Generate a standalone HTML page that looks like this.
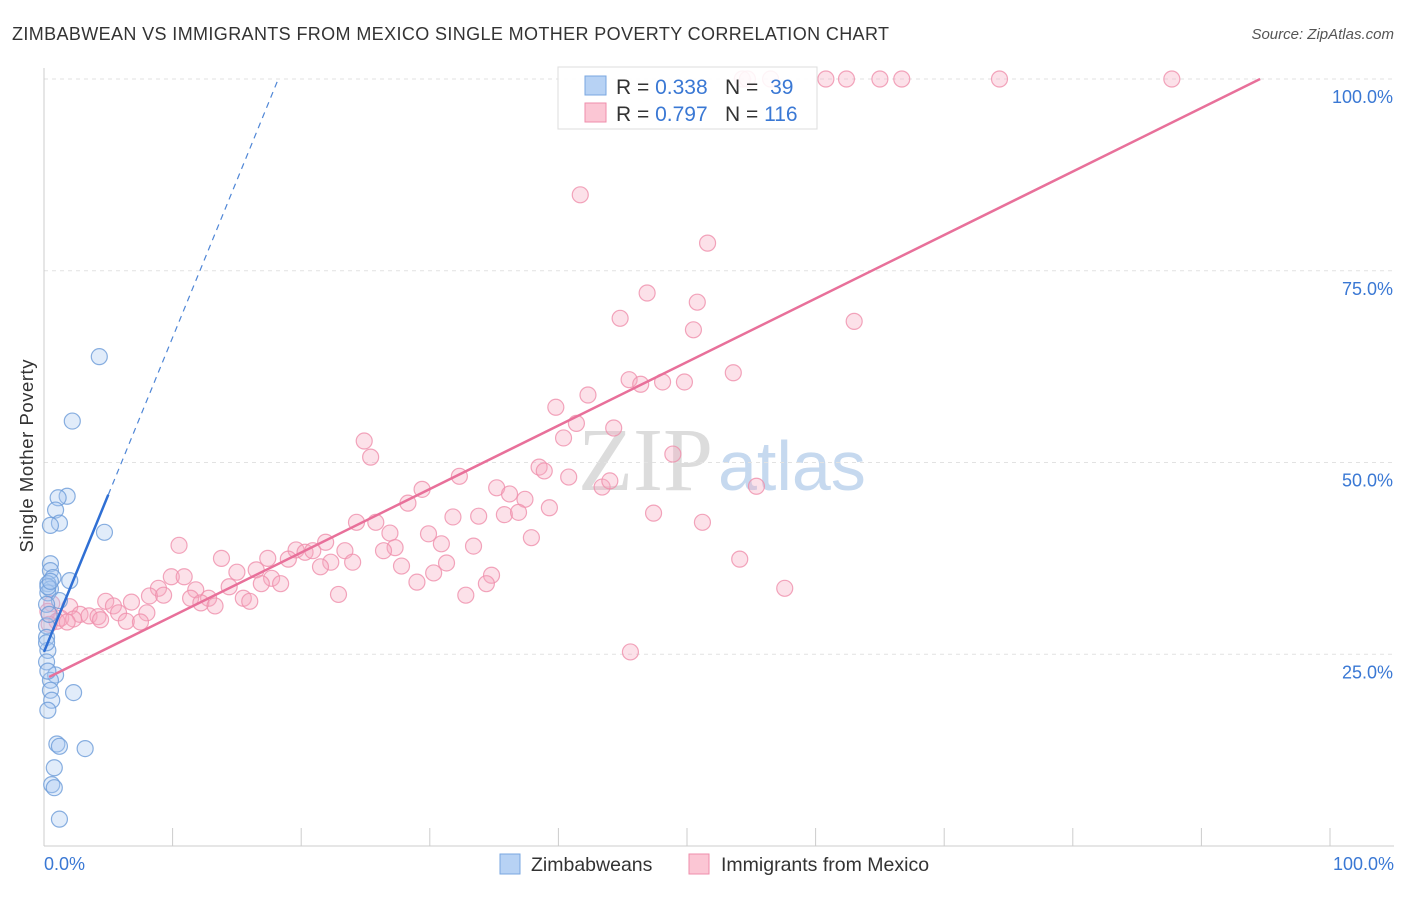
<!DOCTYPE html>
<html><head><meta charset="utf-8"><style>
body{margin:0;background:#fff;font-family:"Liberation Sans",sans-serif;}
</style></head><body>
<svg id="chart" width="1406" height="892" xmlns="http://www.w3.org/2000/svg">
<text x="12" y="40" font-size="18" fill="#333" textLength="877">ZIMBABWEAN VS IMMIGRANTS FROM MEXICO SINGLE MOTHER POVERTY CORRELATION CHART</text>
<text x="1394" y="39" font-size="15" fill="#555" text-anchor="end" font-style="italic">Source: ZipAtlas.com</text>
<text x="33" y="456" font-size="18.5" fill="#333" text-anchor="middle" transform="rotate(-90 33 456)" textLength="193">Single Mother Poverty</text>
<text x="713" y="490" font-size="90" fill="#dcdcdc" font-family="Liberation Serif,serif" text-anchor="end">ZIP</text>
<text x="718" y="490" font-size="70" fill="#c6d9ef">atlas</text>
<g id="grid"></g>
<g id="marks"></g>
<g>
<rect x="558" y="67" width="259" height="62" fill="#fff" fill-opacity="0.88" stroke="#ddd"/>
<rect x="585" y="76" width="21" height="19" fill="#b7d2f4" stroke="#7aa7e0"/>
<rect x="585" y="103" width="21" height="19" fill="#fbc6d4" stroke="#ef8eab"/>
<text x="616" y="94" font-size="21" fill="#333">R = <tspan fill="#3a78d4">0.338</tspan></text>
<text x="725" y="94" font-size="21" fill="#333">N = <tspan fill="#3a78d4" dx="6">39</tspan></text>
<text x="616" y="121" font-size="21" fill="#333">R = <tspan fill="#3a78d4">0.797</tspan></text>
<text x="725" y="121" font-size="21" fill="#333">N = <tspan fill="#3a78d4">116</tspan></text>
</g>
<g>
<rect x="500" y="854" width="20" height="20" fill="#b7d2f4" stroke="#7aa7e0"/>
<text x="531" y="871" font-size="19.5" fill="#333">Zimbabweans</text>
<rect x="689" y="854" width="20" height="20" fill="#fbc6d4" stroke="#ef8eab"/>
<text x="721" y="871" font-size="19.5" fill="#333">Immigrants from Mexico</text>
</g>
<text x="44" y="870" font-size="18" fill="#3a78d4">0.0%</text>
<text x="1394" y="870" font-size="18" fill="#3a78d4" text-anchor="end">100.0%</text>
</svg>
<script>
const yTicks=[25,50,75,100];
const yTickLabels=["25.0%","50.0%","75.0%","100.0%"];
const blueX=[4.3,2.2,1.8,1.1,0.9,1.2,0.5,4.7,0.5,0.5,0.7,2,0.3,0.5,0.3,1.2,0.2,0.2,0.2,0.3,0.2,0.9,0.5,0.5,2.3,0.6,0.3,1,1.2,3.2,0.8,0.6,0.8,1.2,0.3,0.4,0.2,0.3,0.5];
const blueY=[63.8,55.4,45.6,45.4,43.8,42.1,41.8,40.9,36.8,35.9,35,34.6,34.2,33.5,33,32,31.5,28.7,27.2,25.5,24,22.3,21.6,20.3,20,19,17.7,13.3,13,12.7,10.2,8,7.6,3.5,33.8,30.2,26.5,22.8,34.5];
const pinkX=[54.3,54.7,56.5,60.8,62.4,65.0,66.7,74.3,87.7,41.7,51.6,46.9,50.8,44.8,63.0,50.5,53.6,45.5,46.4,48.1,49.8,42.3,39.8,41.4,44.3,40.4,24.9,25.4,48.9,38.5,38.9,32.3,40.8,55.4,43.4,44,35.2,29.4,36.2,37.4,28.3,35.8,36.9,39.3,31.8,33.8,47.4,51.2,24.3,25.8,26.9,29.9,37.9,21.9,30.9,10.5,33.4,19.6,20.3,27.3,26.4,23.4,20.9,13.8,17.4,19,54.1,22.3,24,31.3,21.5,27.8,15,16.5,30.3,34.8,9.9,10.9,17.7,29,16.9,18.4,34.4,8.9,57.6,14.4,11.8,22.9,32.8,8.2,9.3,11.4,12.8,15.5,4.8,6.8,12.2,16,13.3,0.6,2,5.4,0.3,5.8,8,2.8,3.5,4.2,1.3,2.3,4.4,6.4,1,1.8,7.5,0.4,45.6];
const pinkY=[100,100,100,100,100,100,100,100,100,84.9,78.6,72.1,70.9,68.8,68.4,67.3,61.7,60.8,60.2,60.5,60.5,58.8,57.2,55.1,54.5,53.2,52.8,50.7,51.1,49.4,48.9,48.2,48.1,46.9,46.8,47.6,46.7,46.5,45.9,45.2,44.7,43.2,43.5,44.1,42.9,43,43.4,42.2,42.2,42.2,40.8,40.7,40.2,39.6,39.4,39.2,39.1,38.6,38.3,38.9,38.5,38.5,38.5,37.5,37.5,37.4,37.4,37,37,36.9,36.4,36.5,35.7,36,35.6,35.3,35.1,35.1,34.9,34.4,34.2,34.2,34.2,33.6,33.6,33.8,33.4,32.8,32.7,32.6,32.7,32.3,32.3,32.3,31.9,31.8,31.7,31.9,31.3,31.6,31.2,31.3,30.6,30.4,30.4,30.2,30,29.9,29.7,29.6,29.5,29.3,29.3,29.2,29.2,28.9,25.3];
const blueFit=[25.3,4.1];
const pinkFit=[21.7,0.828];
const NS="http://www.w3.org/2000/svg";
const X=v=>44+v*12.86, Y=v=>846-v*7.67;
const grid=document.getElementById('grid'), marks=document.getElementById('marks');
function mk(tag,at,par){const e=document.createElementNS(NS,tag);for(const k in at)e.setAttribute(k,at[k]);par.appendChild(e);return e;}
yTicks.forEach((t,i)=>{
 const l=mk('line',{x1:44,x2:1394,y1:Y(t),y2:Y(t),stroke:'#e2e2e2','stroke-dasharray':'4 4'},grid);
 
 
 const tx=mk('text',{x:1393,y:Y(t)+24,'font-size':18,fill:'#3a78d4','text-anchor':'end'},grid);
 tx.textContent=yTickLabels[i];
 
 
});
mk('line',{x1:44,x2:44,y1:68,y2:846,stroke:'#ccc'},grid);
mk('line',{x1:44,x2:1394,y1:846,y2:846,stroke:'#ccc'},grid);
for(let i=1;i<=10;i++){const t=mk('line',{x1:X(i*10),x2:X(i*10),y1:828,y2:846,stroke:'#ccc'},grid);
 
 }
function dots(xs,ys,fill,stroke,name){xs.forEach((x,i)=>{const c=mk('circle',{cx:X(x),cy:Y(ys[i]),r:8,fill:fill,'fill-opacity':0.35,stroke:stroke,'stroke-width':1.2,'stroke-opacity':0.8},marks);
 
 });}
dots(pinkX,pinkY,'#f7a8c0','#ef8eab','mexico-point');
dots(blueX,blueY,'#a8c8f0','#6b9bd8','zimbabwean-point');
const pxEnd=(100-pinkFit[0])/pinkFit[1];
const pl=mk('line',{x1:X(0.4),y1:Y(pinkFit[0]+pinkFit[1]*0.4),x2:X(pxEnd),y2:Y(100),stroke:'#e8709a','stroke-width':2.5},marks);


const bxEnd=(100-blueFit[0])/blueFit[1];
const bd=mk('line',{x1:X(5),y1:Y(blueFit[0]+blueFit[1]*5),x2:X(bxEnd),y2:Y(100),stroke:'#4f86d6','stroke-width':1.2,'stroke-dasharray':'6 5'},marks);


const bl=mk('line',{x1:X(0),y1:Y(blueFit[0]),x2:X(5),y2:Y(blueFit[0]+blueFit[1]*5),stroke:'#2f6fd4','stroke-width':2.5},marks);


</script>
</body></html>
